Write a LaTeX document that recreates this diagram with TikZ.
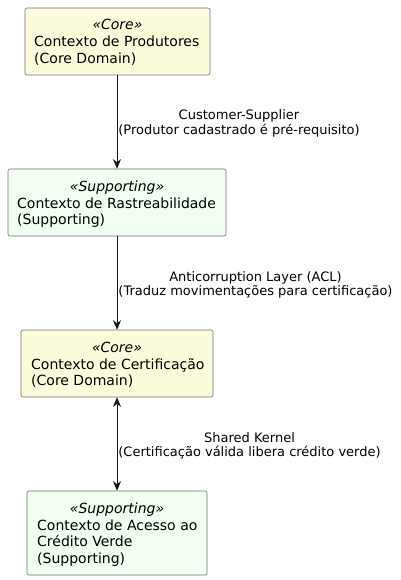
\documentclass[tikz,border=0pt]{standalone}
\usepackage{fontspec}
\setmainfont{DejaVu Sans}
\usetikzlibrary{arrows.meta}
\definecolor{corefill}{HTML}{FCFCDC}
\definecolor{supfill}{HTML}{F1FEF1}
\definecolor{boxline}{HTML}{707070}
\definecolor{arrowc}{HTML}{181818}
\tikzset{
  ctxbox/.style={draw=boxline, line width=0.6pt, rounded corners=2pt, inner sep=0pt},
  corebox/.style={ctxbox, fill=corefill},
  supbox/.style={ctxbox, fill=supfill},
  stereo/.style={anchor=base, inner sep=0pt, font=\fontsize{14}{16.5}\selectfont\itshape},
  body/.style={anchor=base west, inner sep=0pt, font=\fontsize{14}{16.5}\selectfont},
  lbl/.style={anchor=base, inner sep=0pt, font=\fontsize{13}{15}\selectfont},
  rel/.style={draw=arrowc, line width=0.8pt, -{Stealth[length=9.5pt,width=8pt,inset=3pt]}},
  relboth/.style={draw=arrowc, line width=0.8pt, {Stealth[length=9.5pt,width=8pt,inset=3pt]}-{Stealth[length=9.5pt,width=8pt,inset=3pt]}}
}
\begin{document}
\begin{tikzpicture}[x=1pt,y=-1pt]
\useasboundingbox (0,0) rectangle (400,580);
% boxes
\node[corebox, minimum width=185pt, minimum height=67pt] (b1) at (117.5,41.5) {};
\node[supbox, minimum width=218pt, minimum height=67pt] (b2) at (117,202.5) {};
\node[corebox, minimum width=192pt, minimum height=67pt] (b3) at (117,363.5) {};
\node[supbox, minimum width=180pt, minimum height=84pt] (b4) at (117,533) {};
% texts box1
\node[stereo] (s1) at (117.5,30) {«Core»};
\node[body] (t1a) at (34,47) {Contexto de Produtores};
\node[body] (t1b) at (34,63.5) {(Core Domain)};
% box2
\node[stereo] (s2) at (117,191) {«Supporting»};
\node[body] (t2a) at (17,208) {Contexto de Rastreabilidade};
\node[body] (t2b) at (17,224.5) {(Supporting)};
% box3
\node[stereo] (s3) at (117,352) {«Core»};
\node[body] (t3a) at (31,369) {Contexto de Certificação};
\node[body] (t3b) at (31,385.5) {(Core Domain)};
% box4
\node[stereo] (s4) at (117,513) {«Supporting»};
\node[body] (t4a) at (37,530) {Contexto de Acesso ao};
\node[body] (t4b) at (37,546.5) {Crédito Verde};
\node[body] (t4c) at (37,563) {(Supporting)};
% connectors
\draw[rel] (b2.north |- b1.south) -- (b2.north);
\draw[rel] (b2.south) -- (b3.north);
\draw[relboth] (b3.south) -- (b4.north);
% labels
\node[lbl] (l1a) at (239,120) {Customer-Supplier};
\node[lbl] (l1b) at (239,134.5) {(Produtor cadastrado é pré-requisito)};
\node[lbl] (l2a) at (255.5,281) {Anticorruption Layer (ACL)};
\node[lbl] (l2b) at (255.5,295.5) {(Traduz movimentações para certificação)};
\node[lbl] (l3a) at (249.5,442) {Shared Kernel};
\node[lbl] (l3b) at (249.5,456.5) {(Certificação válida libera crédito verde)};
\end{tikzpicture}
\end{document}
